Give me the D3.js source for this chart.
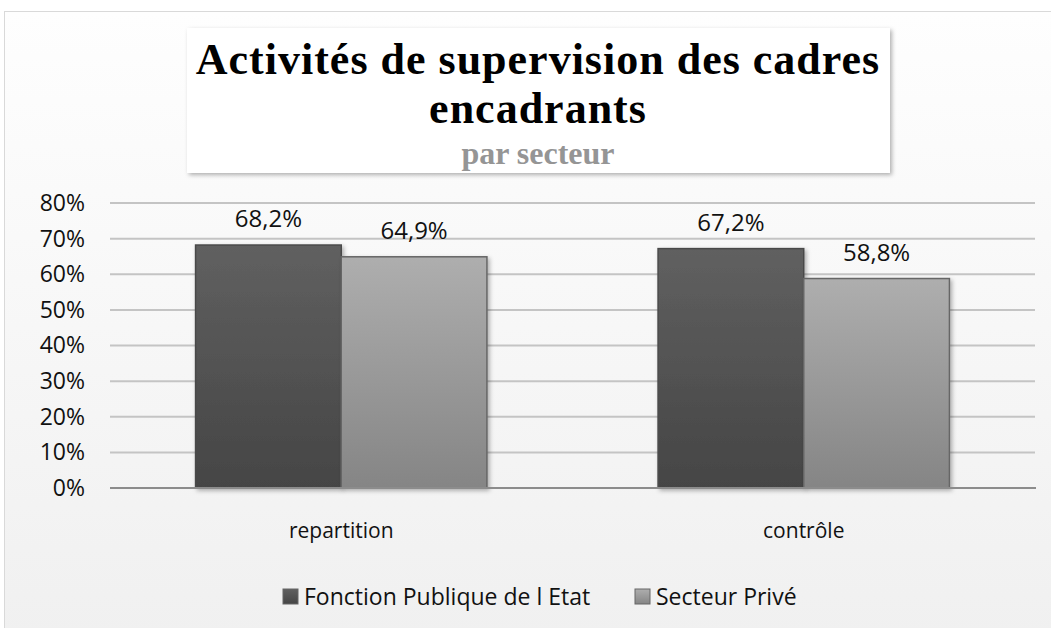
<!DOCTYPE html>
<html>
<head>
<meta charset="utf-8">
<script src="https://cdn.jsdelivr.net/npm/d3@7"></script>
<style>
  body { margin: 0; background: #fff; }
  svg { display: block; }
  .lbl { font-family: "Open Sans", sans-serif; fill: #111; }
</style>
</head>
<body>
<div id="output"></div>
<script>
var categories = ["repartition", "contrôle"];
var seriesNames = ["Fonction Publique de l Etat", "Secteur Privé"];
var fpeValues = [68.2, 67.2];
var priveValues = [64.9, 58.8];
var yTicks = [0, 10, 20, 30, 40, 50, 60, 70, 80];

var w = 1051, h = 628;
var margin = {top: 203, right: 16, bottom: 140, left: 110};
var wChart = w - margin.left - margin.right;
var hChart = h - margin.top - margin.bottom;

var svg = d3.select("#output").append("svg")
    .attr("width", w)
    .attr("height", h);

var defs = svg.append("defs");

var bg = defs.append("linearGradient").attr("id", "bg")
    .attr("x1", 0).attr("y1", 0).attr("x2", 0).attr("y2", 1);
bg.append("stop").attr("offset", "0%").attr("stop-color", "#fefefe");
bg.append("stop").attr("offset", "100%").attr("stop-color", "#f0f0f0");

var gradColors = [["#606060", "#454545"], ["#aeaeae", "#858585"]];
gradColors.forEach(function (c, i) {
    var g = defs.append("linearGradient").attr("id", "bar" + i)
        .attr("x1", 0).attr("y1", 0).attr("x2", 0).attr("y2", 1);
    g.append("stop").attr("offset", "0%").attr("stop-color", c[0]);
    g.append("stop").attr("offset", "100%").attr("stop-color", c[1]);
});

var shadow = defs.append("filter").attr("id", "shadow")
    .attr("x", "-5%").attr("y", "-5%").attr("width", "115%").attr("height", "120%");
shadow.append("feDropShadow").attr("dx", 2).attr("dy", 2)
    .attr("stdDeviation", 2).attr("flood-color", "#000").attr("flood-opacity", 0.3);

// chart area
svg.append("rect")
    .attr("x", 4.5).attr("y", 11.5)
    .attr("width", w + 10).attr("height", h)
    .attr("fill", "url(#bg)")
    .attr("stroke", "#d9d9d9");

var chart = svg.append("g")
    .attr("transform", "translate(" + margin.left + "," + margin.top + ")");

var x0 = d3.scaleBand()
    .domain(categories)
    .range([0, wChart])
    .paddingInner(0.37)
    .paddingOuter(0.185);

var x1 = d3.scaleBand()
    .domain([0, 1])
    .range([0, x0.bandwidth()]);

var y = d3.scaleLinear()
    .domain([0, 80])
    .range([hChart, 0]);

// gridlines
chart.selectAll(".grid")
    .data(yTicks.slice(1))
    .enter()
    .append("line")
    .attr("x1", 0).attr("x2", wChart)
    .attr("y1", function (d) { return y(d); })
    .attr("y2", function (d) { return y(d); })
    .attr("stroke", "#c4c4c4")
    .attr("stroke-width", 2);

var yAxis = d3.axisLeft(y)
    .tickValues(yTicks)
    .tickSize(0)
    .tickPadding(25)
    .tickFormat(function (d) { return d + "%"; });

var gy = chart.append("g").call(yAxis);
gy.select(".domain").remove();
gy.selectAll("text")
    .attr("class", "lbl")
    .style("font-size", "23px")
    .attr("fill", "#111");

var rows = categories.map(function (c, i) {
    return {cat: c, vals: [fpeValues[i], priveValues[i]]};
});

var groups = chart.selectAll(".grp")
    .data(rows)
    .enter()
    .append("g")
    .attr("transform", function (d) { return "translate(" + x0(d.cat) + ",0)"; });

groups.selectAll("rect")
    .data(function (d) { return d.vals; })
    .enter()
    .append("rect")
    .attr("x", function (d, i) { return x1(i); })
    .attr("y", function (d) { return y(d); })
    .attr("width", x1.bandwidth())
    .attr("height", function (d) { return hChart - y(d); })
    .attr("fill", function (d, i) { return "url(#bar" + i + ")"; })
    .attr("stroke", function (d, i) { return i == 0 ? "#4a4a4a" : "#666"; })
    .attr("stroke-width", 1.5)
    .attr("filter", "url(#shadow)");

groups.selectAll(".val")
    .data(function (d) { return d.vals; })
    .enter()
    .append("text")
    .attr("class", "lbl")
    .attr("x", function (d, i) { return x1(i) + x1.bandwidth() / 2; })
    .attr("y", function (d) { return y(d) - 18; })
    .attr("text-anchor", "middle")
    .style("font-size", "24px")
    .text(function (d) { return d3.format(".1f")(d).replace(".", ",") + "%"; });

// x axis
chart.append("line")
    .attr("x1", 0).attr("x2", wChart + 1)
    .attr("y1", hChart).attr("y2", hChart)
    .attr("stroke", "#8c8c8c")
    .attr("stroke-width", 2);

var xAxis = d3.axisBottom(x0).tickSize(0).tickPadding(35);
var gx = chart.append("g")
    .attr("transform", "translate(0," + hChart + ")")
    .call(xAxis);
gx.select(".domain").remove();
gx.selectAll("text")
    .attr("class", "lbl")
    .style("font-size", "21px")
    .attr("fill", "#111");

// legend
var legendX = [283, 635];
var legend = svg.selectAll(".leg")
    .data(seriesNames)
    .enter()
    .append("g")
    .attr("transform", function (d, i) { return "translate(" + legendX[i] + ",589)"; });
legend.append("rect")
    .attr("width", 15).attr("height", 15)
    .attr("fill", function (d, i) { return "url(#bar" + i + ")"; })
    .attr("stroke", "#666");
legend.append("text")
    .attr("class", "lbl")
    .attr("x", 21).attr("y", 15.5)
    .style("font-size", "23px")
    .text(function (d) { return d; });

// title box
var tb = svg.append("g");
tb.append("rect")
    .attr("x", 187).attr("y", 28)
    .attr("width", 703).attr("height", 145)
    .attr("fill", "#fff")
    .attr("filter", "url(#shadow)");

var titleLines = ["Activités de supervision des cadres", "encadrants"];
tb.selectAll(".title")
    .data(titleLines)
    .enter()
    .append("text")
    .attr("x", 538)
    .attr("y", function (d, i) { return 74 + i * 49; })
    .attr("text-anchor", "middle")
    .style("font-family", "'Liberation Serif', serif")
    .style("font-weight", "bold")
    .style("font-size", "44px")
    .style("letter-spacing", "1px")
    .attr("fill", "#000")
    .text(function (d) { return d; });

tb.append("text")
    .attr("x", 538).attr("y", 164)
    .attr("text-anchor", "middle")
    .style("font-family", "'Liberation Serif', serif")
    .style("font-weight", "bold")
    .style("font-size", "32px")
    .attr("fill", "#959595")
    .text("par secteur");
</script>
</body>
</html>
